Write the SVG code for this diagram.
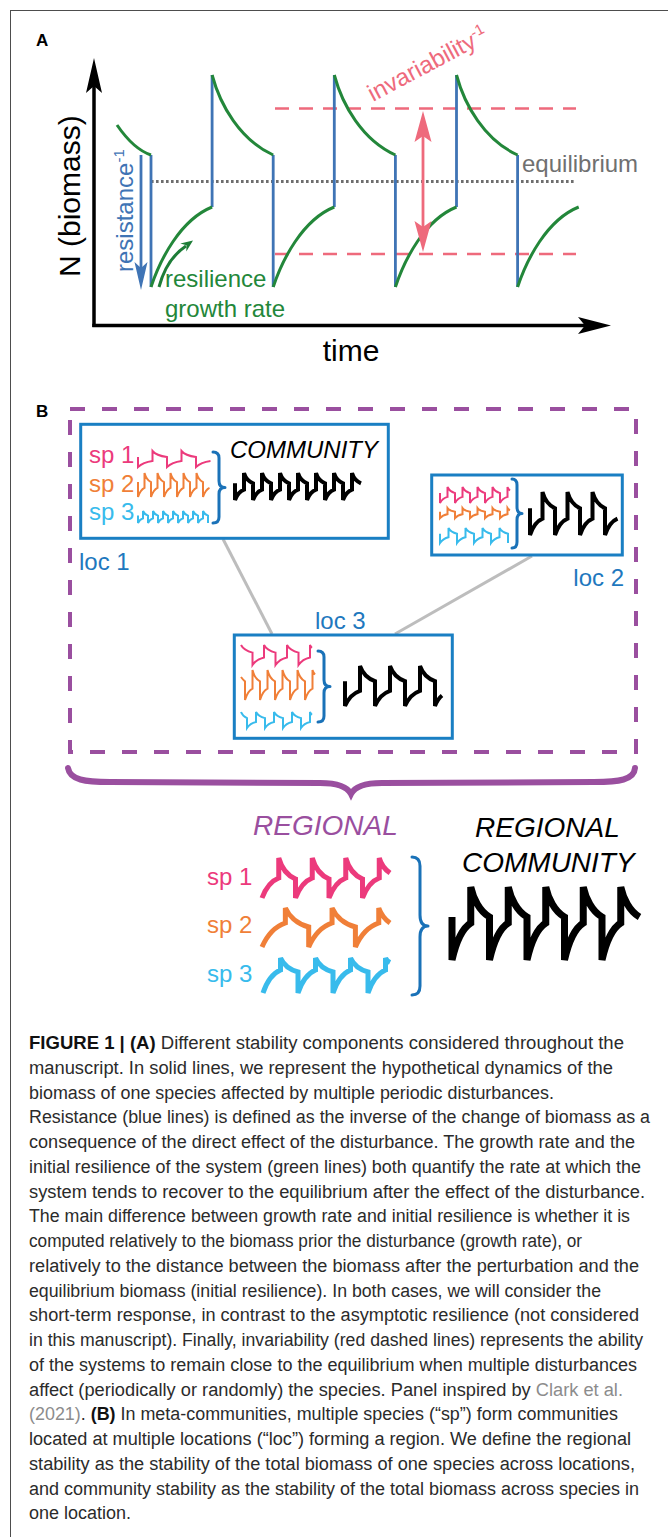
<svg xmlns="http://www.w3.org/2000/svg" width="668" height="1537" viewBox="0 0 668 1537">
<defs>
<style>
text{font-family:"Liberation Sans",Arial,Helvetica,sans-serif}
.frame{stroke:#4d4d4d;stroke-width:1;fill:none}
.axis{stroke:#000;stroke-width:3.5;fill:none}
.blue{stroke:#3f74b5;stroke-width:2.8;fill:none}
.green{stroke:#23873a;stroke-width:3;fill:none}
.red{stroke:#ee6a7c;stroke-width:2.8;fill:none}
.reddash{stroke:#ee6a7c;stroke-width:2.6;fill:none;stroke-dasharray:14 10}
.eq{stroke:#6e6e6e;stroke-width:3;fill:none;stroke-dasharray:2.6 2.4}
.box{fill:#fff;stroke:#1a7fc3;stroke-width:3}
.brace{fill:none;stroke:#1a72b8;stroke-width:3;stroke-linejoin:round;stroke-linecap:round}
.wave{fill:none;stroke-width:2;stroke-linejoin:miter}
.w4{stroke-width:4}
.w5{stroke-width:5}
.w7{stroke-width:7}
.pk{stroke:#ec3a7c}.or{stroke:#f07f38}.lb{stroke:#38bbec}.bk{stroke:#000}
.tpk{fill:#ec3a7c}.tor{fill:#f07f38}.tlb{fill:#38bbec}
.loc{fill:#1e78be;font-size:24px}
.sp{font-size:24px}
.region{fill:none;stroke:#9a4f9f;stroke-width:4;stroke-dasharray:15 17}
.conn{stroke:#bdbdbd;stroke-width:3;fill:none}
.cap{font-size:18px;fill:#2b2b2b}
.b{font-weight:bold;fill:#111}
.cite{fill:#8c8c8c}
.panel{font-size:17px;font-weight:bold}
</style>
</defs>

<g id="frame">
<line class="frame" x1="10" y1="10.5" x2="668" y2="10.5"/>
<line class="frame" x1="10.5" y1="10" x2="10.5" y2="1537"/>
</g>

<g id="panel-A">
<text class="panel" x="36" y="46">A</text>
<line class="axis" x1="94" y1="327" x2="94" y2="80"/>
<polygon points="94,58 86,93 94,86 102,93" fill="#000"/>
<line class="axis" x1="92.3" y1="325.5" x2="590" y2="325.5"/>
<polygon points="611,325.5 578,317 585,325.5 578,334" fill="#000"/>
<text transform="translate(80,277) rotate(-90)" font-size="30">N (biomass)</text>
<text x="351" y="361" font-size="30" text-anchor="middle">time</text>

<line class="reddash" x1="275" y1="108.5" x2="576" y2="108.5"/>
<line class="reddash" x1="275" y1="254" x2="576" y2="254"/>
<line class="eq" x1="151" y1="181.5" x2="576" y2="181.5"/>
<text x="522" y="172" font-size="24" fill="#707070">equilibrium</text>

<path class="blue" d="M151,155 V287 M212.1,207 V75 M273.2,155 V287 M334.3,207 V75 M395.4,155 V287 M456.5,207 V75 M517.6,155 V287"/>
<path class="green" d="M117,125 C128,141 139,151 151,155
M151,287 c9,-27 29,-67 61.1,-80
M212.1,75 c8,30 28,65 61.1,80
M273.2,287 c9,-27 29,-67 61.1,-80
M334.3,75 c8,30 28,65 61.1,80
M395.4,287 c9,-27 29,-67 61.1,-80
M456.5,75 c8,30 28,65 61.1,80
M517.6,287 c9,-27 29,-67 61.1,-80"/>

<line class="blue" x1="141" y1="155" x2="141" y2="270"/>
<polygon points="141,290 134.5,262 141,268 147.5,262" fill="#3f74b5"/>
<text transform="translate(133,272) rotate(-90)" font-size="24" fill="#3f74b5">resistance<tspan dy="-9" font-size="15">-1</tspan></text>

<path d="M159,287 C164,268 174,254 186,246" fill="none" stroke="#1e7d38" stroke-width="3"/>
<polygon points="193,240.5 180.3,243.6 186.5,245.2 186.3,251.6" fill="#1e7d38"/>
<text x="165" y="287" font-size="24" fill="#23873a">resilience</text>
<text x="165" y="317" font-size="24" fill="#23873a">growth rate</text>

<line class="red" x1="423" y1="134" x2="423" y2="230"/>
<polygon points="423,111 414.5,142 423,136 431.5,142" fill="#ee6a7c"/>
<polygon points="423,252 414.5,221 423,227 431.5,221" fill="#ee6a7c"/>
<text transform="translate(373,102) rotate(-28)" font-size="24" fill="#ee6a7c">invariability<tspan dy="-9" font-size="15">-1</tspan></text>
</g>

<g id="panel-B">
<text class="panel" x="36" y="417">B</text>

<g id="region">
<path class="region" d="M70,409 H636 V752 H70 Z"/>
</g>

<g id="connectors">
<line class="conn" x1="223" y1="539" x2="272" y2="634"/>
<line class="conn" x1="532" y1="556" x2="395" y2="634"/>
</g>

<g id="loc1">
<rect class="box" x="80.7" y="424.3" width="307.6" height="114"/>
<text class="sp tpk" x="89" y="463">sp 1</text>
<text class="sp tor" x="89" y="491.7">sp 2</text>
<text class="sp tlb" x="89" y="520">sp 3</text>
<path class="wave pk" d="M138,457.1 v9.9 c2.1,-2 6.9,-5.1 14.5,-6.1 v-9.9 c1.9,2.3 6.7,4.9 14.5,6.1 v9.9 c2.1,-2 6.9,-5.1 14.5,-6.1 v-9.9 c1.9,2.3 6.7,4.9 14.5,6.1 v9.9 c2.1,-2 6.9,-5.1 14.5,-6.1"/>
<path class="wave or" d="M138,482.1 v14.9 c1,-3 3.1,-7.6 6.5,-9.1 v-14.9 c0.9,3.4 3,7.4 6.5,9.1 v14.9 c1,-3 3.1,-7.6 6.5,-9.1 v-14.9 c0.9,3.4 3,7.4 6.5,9.1 v14.9 c1,-3 3.1,-7.6 6.5,-9.1 v-14.9 c0.9,3.4 3,7.4 6.5,9.1 v14.9 c1,-3 3.1,-7.6 6.5,-9.1 v-14.9 c0.9,3.4 3,7.4 6.5,9.1 v14.9 c1,-3 3.1,-7.6 6.5,-9.1 v-14.9 c0.9,3.4 3,7.4 6.5,9.1 v14.9 c1,-3 3.1,-7.6 6.5,-9.1"/>
<path class="wave lb" d="M138,515.6 v7.4 c0.7,-1.5 2.4,-3.8 5,-4.6 v-7.4 c0.7,1.7 2.3,3.7 5,4.6 v7.4 c0.7,-1.5 2.4,-3.8 5,-4.6 v-7.4 c0.7,1.7 2.3,3.7 5,4.6 v7.4 c0.7,-1.5 2.4,-3.8 5,-4.6 v-7.4 c0.7,1.7 2.3,3.7 5,4.6 v7.4 c0.7,-1.5 2.4,-3.8 5,-4.6 v-7.4 c0.7,1.7 2.3,3.7 5,4.6 v7.4 c0.7,-1.5 2.4,-3.8 5,-4.6 v-7.4 c0.7,1.7 2.3,3.7 5,4.6 v7.4 c0.7,-1.5 2.4,-3.8 5,-4.6 v-7.4 c0.7,1.7 2.3,3.7 5,4.6 v7.4 c0.7,-1.5 2.4,-3.8 5,-4.6 v-7.4 c0.7,1.7 2.3,3.7 5,4.6 v7.4"/>
<path class="brace" d="M213,452 Q219,452 219,458 L219,481 Q219,487.5 225,487.5 Q219,487.5 219,494 L219,517 Q219,523 213,523"/>
<text x="230" y="458" font-size="24" font-style="italic">COMMUNITY</text>
<path class="wave bk w4" d="M235,483.3 v16.7 c1.3,-3.4 4.3,-8.5 9,-10.3 v-16.7 c1.2,3.8 4.1,8.3 9,10.3 v16.7 c1.3,-3.4 4.3,-8.5 9,-10.3 v-16.7 c1.2,3.8 4.1,8.3 9,10.3 v16.7 c1.3,-3.4 4.3,-8.5 9,-10.3 v-16.7 c1.2,3.8 4.1,8.3 9,10.3 v16.7 c1.3,-3.4 4.3,-8.5 9,-10.3 v-16.7 c1.2,3.8 4.1,8.3 9,10.3 v16.7 c1.3,-3.4 4.3,-8.5 9,-10.3 v-16.7 c1.2,3.8 4.1,8.3 9,10.3 v16.7 c1.3,-3.4 4.3,-8.5 9,-10.3 v-16.7 c1.2,3.8 4.1,8.3 9,10.3 v16.7 c1.3,-3.4 4.3,-8.5 9,-10.3 v-16.7 c1.2,3.8 4.1,8.3 9,10.3"/>
<text class="loc" x="79" y="570">loc 1</text>
</g>

<g id="loc2">
<rect class="box" x="431.7" y="475" width="190.6" height="80"/>
<path class="wave pk" d="M440,493.1 v9.9 c1.1,-2 3.6,-5.1 7.5,-6.1 v-9.9 c1,2.3 3.5,4.9 7.5,6.1 v9.9 c1.1,-2 3.6,-5.1 7.5,-6.1 v-9.9 c1,2.3 3.5,4.9 7.5,6.1 v9.9 c1.1,-2 3.6,-5.1 7.5,-6.1 v-9.9 c1,2.3 3.5,4.9 7.5,6.1 v9.9 c1.1,-2 3.6,-5.1 7.5,-6.1 v-9.9 c1,2.3 3.5,4.9 7.5,6.1 v9.9 c1.1,-2 3.6,-5.1 7.5,-6.1 v-9.9 c0.6,1.5 1.5,2.8 2.5,3.5"/>
<path class="wave or" d="M440,511.8 v6.2 c1.1,-1.3 3.6,-3.2 7.5,-3.8 v-6.2 c1,1.4 3.5,3.1 7.5,3.8 v6.2 c1.1,-1.3 3.6,-3.2 7.5,-3.8 v-6.2 c1,1.4 3.5,3.1 7.5,3.8 v6.2 c1.1,-1.3 3.6,-3.2 7.5,-3.8 v-6.2 c1,1.4 3.5,3.1 7.5,3.8 v6.2 c1.1,-1.3 3.6,-3.2 7.5,-3.8 v-6.2 c1,1.4 3.5,3.1 7.5,3.8 v6.2 c1.1,-1.3 3.6,-3.2 7.5,-3.8 v-6.2 c0.6,1 1.5,1.8 2.5,2.2"/>
<path class="wave lb" d="M440,533.7 v9.3 c1.3,-1.9 4,-4.7 8.5,-5.7 v-9.3 c1.1,2.1 3.9,4.6 8.5,5.7 v9.3 c1.3,-1.9 4,-4.7 8.5,-5.7 v-9.3 c1.1,2.1 3.9,4.6 8.5,5.7 v9.3 c1.3,-1.9 4,-4.7 8.5,-5.7 v-9.3 c1.1,2.1 3.9,4.6 8.5,5.7 v9.3 c1.3,-1.9 4,-4.7 8.5,-5.7 v-9.3 c1.1,2.1 3.9,4.6 8.5,5.7 v9.3"/>
<path class="brace" d="M512,479 Q517,479 517,485 L517,507 Q517,513.5 522,513.5 Q517,513.5 517,520 L517,542 Q517,548 512,548"/>
<path class="wave bk w4" d="M530,508.3 v26.7 c1.9,-5.5 6,-13.6 12.5,-16.3 v-26.7 c1.7,6.1 5.8,13.2 12.5,16.3 v26.7 c1.9,-5.5 6,-13.6 12.5,-16.3 v-26.7 c1.7,6.1 5.8,13.2 12.5,16.3 v26.7 c1.9,-5.5 6,-13.6 12.5,-16.3 v-26.7 c1.7,6.1 5.8,13.2 12.5,16.3 v26.7 c1.9,-5.5 6,-13.6 12.5,-16.3"/>
<text class="loc" x="624" y="586" text-anchor="end">loc 2</text>
</g>

<g id="loc3">
<rect class="box" x="234.3" y="635" width="218" height="103.3"/>
<path class="wave pk" d="M241,645 c1.5,2.8 5.3,6.1 11.5,7.6 v12.4 c1.7,-2.5 5.5,-6.3 11.5,-7.6 v-12.4 c1.5,2.8 5.3,6.1 11.5,7.6 v12.4 c1.7,-2.5 5.5,-6.3 11.5,-7.6 v-12.4 c1.5,2.8 5.3,6.1 11.5,7.6 v12.4 c1.7,-2.5 5.5,-6.3 11.5,-7.6 v-12.4 c0.5,1.2 1.2,2.2 2,2.8"/>
<path class="wave or" d="M241,677 c1.5,2 2.7,3.5 4,4.4 v18.6 c1.1,-3.8 3.6,-9.5 7.5,-11.4 v-18.6 c1,4.3 3.5,9.2 7.5,11.4 v18.6 c1.1,-3.8 3.6,-9.5 7.5,-11.4 v-18.6 c1,4.3 3.5,9.2 7.5,11.4 v18.6 c1.1,-3.8 3.6,-9.5 7.5,-11.4 v-18.6 c1,4.3 3.5,9.2 7.5,11.4 v18.6 c1.1,-3.8 3.6,-9.5 7.5,-11.4 v-18.6 c1,4.3 3.5,9.2 7.5,11.4 v18.6 c1.1,-3.8 3.6,-9.5 7.5,-11.4 v-18.6 c0.6,2 1.5,3.5 2.5,4.5"/>
<path class="wave lb" d="M241,712 c0.8,2 2.5,4.5 6,6.1 v9.9 c1.3,-2 4.3,-5.1 9,-6.1 v-9.9 c1.2,2.3 4.1,4.9 9,6.1 v9.9 c1.3,-2 4.3,-5.1 9,-6.1 v-9.9 c1.2,2.3 4.1,4.9 9,6.1 v9.9 c1.3,-2 4.3,-5.1 9,-6.1 v-9.9 c1.2,2.3 4.1,4.9 9,6.1 v9.9 c1.3,-2 4.3,-5.1 9,-6.1 v-9.9 c0.5,1.2 1.2,2.2 2,2.8"/>
<path class="brace" d="M318,651 Q324,651 324,657 L324,680 Q324,686.5 330,686.5 Q324,686.5 324,693 L324,716 Q324,722 318,722"/>
<path class="wave bk w4" d="M345,681.2 v24.8 c2.2,-5.1 7.1,-12.6 15,-15.2 v-24.8 c2,5.7 6.9,12.3 15,15.2 v24.8 c2.2,-5.1 7.1,-12.6 15,-15.2 v-24.8 c2,5.7 6.9,12.3 15,15.2 v24.8 c2.2,-5.1 7.1,-12.6 15,-15.2 v-24.8 c2,5.7 6.9,12.3 15,15.2 v24.8 c1.6,-4 4.5,-8.5 7,-10.5"/>
<text class="loc" x="315" y="629">loc 3</text>
</g>

<g id="regional-brace">
<path d="M68,768 C70,780 85,782 110,782 L320,783 C340,783 348,788 351,794 C354,788 362,783 382,783 L594,782 C619,782 634,780 635,768" fill="none" stroke="#9a4f9f" stroke-width="6" stroke-linecap="round"/>
</g>

<g id="regional">
<text x="253" y="835" font-size="28" font-style="italic" fill="#9a4f9f">REGIONAL</text>
<text class="sp tpk" x="207" y="885">sp 1</text>
<text class="sp tor" x="207" y="933">sp 2</text>
<text class="sp tlb" x="207" y="982">sp 3</text>
<path class="wave pk w5" d="M262,898 c2.5,-6.7 8,-16.6 16.75,-20 v-20 c2.2,7.9 7.7,17 16.75,21 v19 c2.5,-6.7 8,-16.6 16.75,-20 v-20 c2.2,7.9 7.7,17 16.75,21 v19 c2.5,-6.7 8,-16.6 16.75,-20 v-20 c2.2,7.9 7.7,17 16.75,21 v19 c2.5,-6.7 8,-16.6 16.75,-20 v-20 c1.5,5.5 5,11 10.75,15"/>
<path class="wave or w5" d="M262,947 c3.5,-8 11.1,-19.9 23.35,-24 v-15 c3.1,7.1 10.7,15.4 23.35,19 v20 c3.5,-8 11.1,-19.9 23.35,-24 v-15 c3.1,7.1 10.7,15.4 23.35,19 v20 c3.5,-8 11.1,-19.9 23.35,-24 v-15 c1.8,5 5.5,11 11.25,15"/>
<path class="wave lb w5" d="M263,993 c2.6,-7.7 8.3,-19.1 17.5,-23 v-12 c2.3,5.2 8.05,11.3 17.5,14 v21 c2.6,-7.7 8.3,-19.1 17.5,-23 v-12 c2.3,5.2 8.05,11.3 17.5,14 v21 c2.6,-7.7 8.3,-19.1 17.5,-23 v-12 c2.3,5.2 8.05,11.3 17.5,14 v21 c2.6,-7.7 8.3,-19.1 17.5,-23 v-12 c1,2 2.5,3.5 4.5,4.5"/>
<path class="brace" stroke-width="5" d="M412,857 Q420,857 420,866 L420,915 Q420,926 428,926 Q420,926 420,937 L420,986 Q420,995 412,995"/>
</g>

<g id="regional-community">
<text x="475" y="837" font-size="28" font-style="italic">REGIONAL</text>
<text x="462" y="872" font-size="28" font-style="italic">COMMUNITY</text>
<path class="wave bk w7" d="M452,917 v43 c2.8,-12.4 8.9,-30.7 18.75,-37 v-36 c2.5,11.2 8.6,24.3 18.75,30 v43 c2.8,-12.4 8.9,-30.7 18.75,-37 v-36 c2.5,11.2 8.6,24.3 18.75,30 v43 c2.8,-12.4 8.9,-30.7 18.75,-37 v-36 c2.5,11.2 8.6,24.3 18.75,30 v43 c2.8,-12.4 8.9,-30.7 18.75,-37 v-36 c2.5,11.2 8.6,24.3 18.75,30 v43 c2.8,-12.4 8.9,-30.7 18.75,-37 v-36 c2.5,11.2 8.6,24.3 18.75,30"/>
</g>
</g>

<g id="caption" class="cap">
<text x="29" y="1049" textLength="595" lengthAdjust="spacingAndGlyphs"><tspan class="b">FIGURE 1 | (A)</tspan> Different stability components considered throughout the</text>
<text x="29" y="1073.75" textLength="584" lengthAdjust="spacingAndGlyphs">manuscript. In solid lines, we represent the hypothetical dynamics of the</text>
<text x="29" y="1098.5" textLength="525" lengthAdjust="spacingAndGlyphs">biomass of one species affected by multiple periodic disturbances.</text>
<text x="29" y="1123.25" textLength="621" lengthAdjust="spacingAndGlyphs">Resistance (blue lines) is defined as the inverse of the change of biomass as a</text>
<text x="29" y="1148" textLength="606" lengthAdjust="spacingAndGlyphs">consequence of the direct effect of the disturbance. The growth rate and the</text>
<text x="29" y="1172.75" textLength="612" lengthAdjust="spacingAndGlyphs">initial resilience of the system (green lines) both quantify the rate at which the</text>
<text x="29" y="1197.5" textLength="616" lengthAdjust="spacingAndGlyphs">system tends to recover to the equilibrium after the effect of the disturbance.</text>
<text x="29" y="1222.25" textLength="601" lengthAdjust="spacingAndGlyphs">The main difference between growth rate and initial resilience is whether it is</text>
<text x="29" y="1247" textLength="553" lengthAdjust="spacingAndGlyphs">computed relatively to the biomass prior the disturbance (growth rate), or</text>
<text x="29" y="1271.75" textLength="610" lengthAdjust="spacingAndGlyphs">relatively to the distance between the biomass after the perturbation and the</text>
<text x="29" y="1296.5" textLength="572" lengthAdjust="spacingAndGlyphs">equilibrium biomass (initial resilience). In both cases, we will consider the</text>
<text x="29" y="1321.25" textLength="610" lengthAdjust="spacingAndGlyphs">short-term response, in contrast to the asymptotic resilience (not considered</text>
<text x="29" y="1346" textLength="614" lengthAdjust="spacingAndGlyphs">in this manuscript). Finally, invariability (red dashed lines) represents the ability</text>
<text x="29" y="1370.75" textLength="608" lengthAdjust="spacingAndGlyphs">of the systems to remain close to the equilibrium when multiple disturbances</text>
<text x="29" y="1395.5" textLength="594" lengthAdjust="spacingAndGlyphs">affect (periodically or randomly) the species. Panel inspired by <tspan class="cite">Clark et al.</tspan></text>
<text x="29" y="1420.25" textLength="589" lengthAdjust="spacingAndGlyphs"><tspan class="cite">(2021)</tspan>. <tspan class="b">(B)</tspan> In meta-communities, multiple species (“sp”) form communities</text>
<text x="29" y="1445" textLength="602" lengthAdjust="spacingAndGlyphs">located at multiple locations (“loc”) forming a region. We define the regional</text>
<text x="29" y="1469.75" textLength="606" lengthAdjust="spacingAndGlyphs">stability as the stability of the total biomass of one species across locations,</text>
<text x="29" y="1494.5" textLength="610" lengthAdjust="spacingAndGlyphs">and community stability as the stability of the total biomass across species in</text>
<text x="29" y="1519.25" textLength="102" lengthAdjust="spacingAndGlyphs">one location.</text>
</g>
</svg>
